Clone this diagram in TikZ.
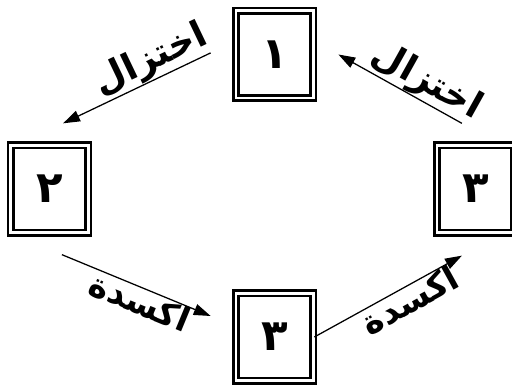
\documentclass[tikz,border=0pt]{standalone}
\usepackage{fontspec}
\newfontfamily\arabicfont[Script=Arabic]{DejaVu Sans}
\TeXXeTstate=1
\usetikzlibrary{arrows.meta, positioning}
\tikzset{
  quadro/.style={
    draw, double, double distance=2pt, line width=1.8pt,
    minimum width=1.93cm, minimum height=2.18cm, inner sep=0pt,
    font=\arabicfont\bfseries\fontsize{31}{31}\selectfont
  },
  flecha/.style={-{Triangle[length=12pt, width=8pt]}, line width=0.9pt},
  rotulo/.style={font=\arabicfont\bfseries\fontsize{26}{26}\selectfont, inner sep=0pt, sloped},
}

\begin{document}
\begin{tikzpicture}
        \useasboundingbox (0,0) rectangle (12.8,9.625);

        \node[quadro] (cima)  at (6.8625,8.2625) {١};
        \node[quadro] (esq)   at (1.2375,4.9)    {٢};
        \node[quadro] (dir)   at (11.8875,4.9)   {٣};
        \node[quadro] (baixo) at (6.8625,1.2)    {٣};

        \draw[flecha] ([shift={(-0.6,0.04)}]cima.west) -- ([shift={(0.34,0.52)}]esq.north)
          node[rotulo, above, pos=0.35] {\beginR اختزال\endR};
        \draw[flecha] ([shift={(-0.34,0.52)}]dir.north) -- ([shift={(0.6,0)}]cima.east)
          node[rotulo, above, pos=0.36] {\beginR اختزال\endR};
        \draw[flecha] ([shift={(0.31,-0.52)}]esq.south) -- ([shift={(-0.6,0.525)}]baixo.west)
          node[rotulo, below, pos=0.56, font=\arabicfont\bfseries\fontsize{24}{24}\selectfont] {\beginR اكسدة\endR};
        \draw[flecha] (baixo.east) -- ([shift={(-0.34,-0.545)}]dir.south)
          node[rotulo, below, pos=0.6, font=\arabicfont\bfseries\fontsize{24}{24}\selectfont] {\beginR اكسدة\endR};
      \end{tikzpicture}
\end{document}
